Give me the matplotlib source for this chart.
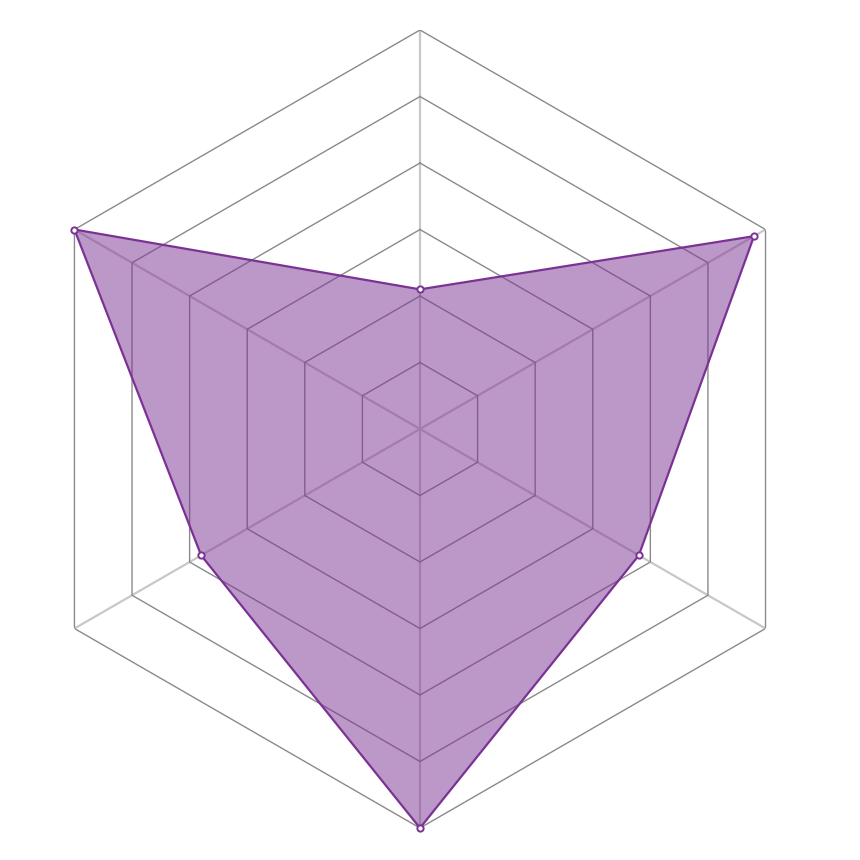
import numpy as np
import matplotlib
matplotlib.use('Agg')
from matplotlib import pyplot as plt

# six axes, clockwise from the top
values = [21, 58, 38, 60, 38, 60]
ring_levels = [10, 20, 30, 40, 50, 60]
R_MAX = 60

LINE_COLOR = '#7b3294'
RING_COLOR = '#8a8a8a'
SPOKE_COLOR = '#c8c8c8'

n = len(values)
theta = np.linspace(0, 2 * np.pi, n, endpoint=False)
theta_closed = np.append(theta, theta[0])
values_closed = values + values[:1]

fig = plt.figure(figsize=(8.6, 8.6), dpi=100)
ax = fig.add_axes([0.0244, 0.0372, 0.9279, 0.9279], projection='polar')
ax.set_theta_offset(np.pi / 2)
ax.set_theta_direction(-1)
ax.set_ylim(0, R_MAX)
ax.axis('off')

# spokes
for t in theta:
    ax.plot([t, t], [0, R_MAX], color=SPOKE_COLOR, lw=1.6, zorder=1,
            solid_capstyle='butt')

# hexagon rings
for lvl in ring_levels:
    ax.plot(theta_closed, [lvl] * (n + 1), color=RING_COLOR, lw=1.0, zorder=2)

ax.fill(theta_closed, values_closed, color=LINE_COLOR, alpha=0.5, lw=0, zorder=3)
ax.plot(theta_closed, values_closed, color=LINE_COLOR, lw=1.6, zorder=4)
ax.plot(theta, values, 'o', ms=4.5, mfc='white', mec=LINE_COLOR, mew=1.4,
        zorder=5, clip_on=False)

fig.savefig('out.png', dpi=100)
